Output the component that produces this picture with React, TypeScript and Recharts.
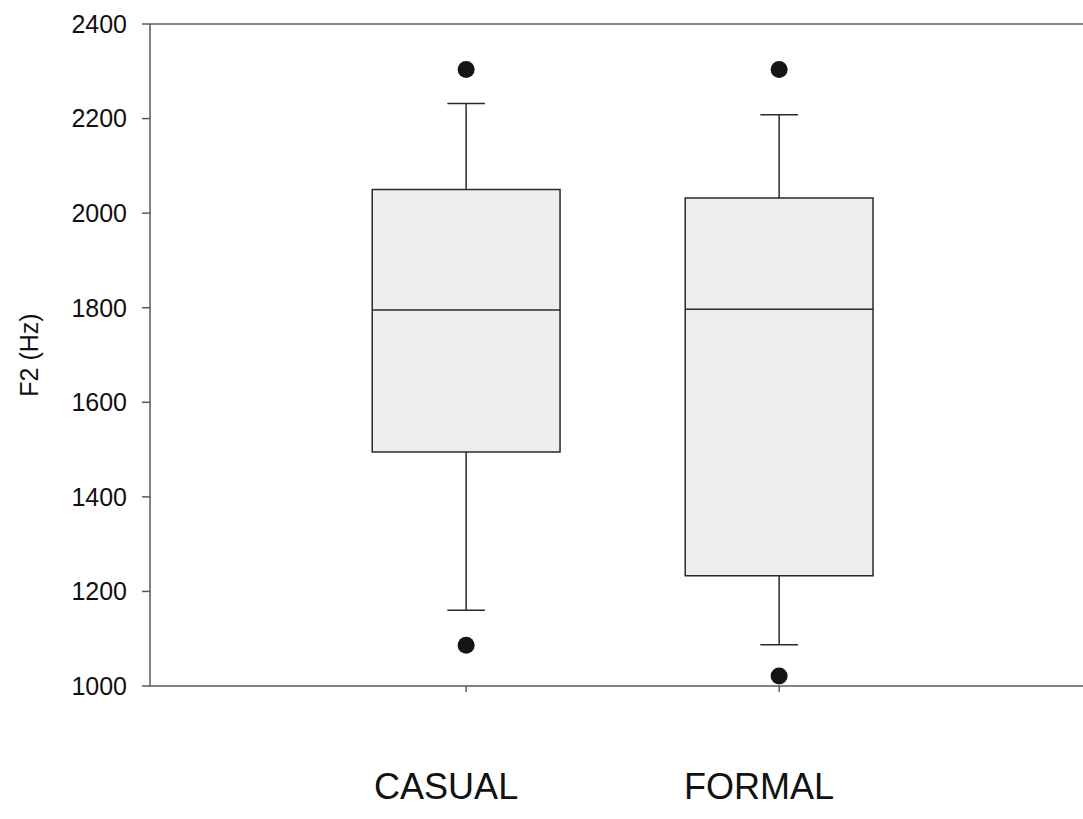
import {
  ComposedChart,
  XAxis,
  YAxis,
  Scatter,
  ReferenceArea,
  ReferenceLine,
  Label,
} from 'recharts';

// ── Box plot data (F2 in Hz) ──
const categories = ['CASUAL', 'FORMAL'];
const lowerWhisker = [1160, 1087];
const q1 = [1495, 1233];
const median = [1795, 1797];
const q3 = [2050, 2032];
const upperWhisker = [2232, 2208];
const outlierHigh = [2304, 2304];
const outlierLow = [1086, 1021];
const yTicks = [1000, 1200, 1400, 1600, 1800, 2000, 2200, 2400];

const BOX_HALF = 0.3;
const CAP_HALF = 0.06;
const LINE = '#2a2a2a';
const AXIS = '#5a5a5a';
const FONT = '"Liberation Sans", Arial, sans-serif';

const outliers = categories.flatMap((_, i) => [
  { x: i + 1, y: outlierHigh[i] },
  { x: i + 1, y: outlierLow[i] },
]);

function CategoryTick(props: any) {
  const { x, y, payload } = props;
  return (
    <text x={x - 20} y={y + 105} textAnchor="middle" fontSize={36} fill="#111" fontFamily={FONT}>
      {categories[payload.value - 1]}
    </text>
  );
}

export default function App() {
  return (
    <div
      style={{
        position: 'fixed',
        left: 0,
        top: 0,
        width: 1083,
        height: 819,
        overflow: 'hidden',
        background: '#fff',
        fontFamily: FONT,
      }}
    >
      <ComposedChart width={1100} height={819} margin={{ top: 24, right: 11, bottom: 0, left: 0 }}>
        <XAxis
          type="number"
          dataKey="x"
          domain={[-0.01, 2.99]}
          allowDataOverflow
          ticks={[1, 2]}
          height={133}
          tickSize={6}
          tickMargin={2}
          stroke={AXIS}
          strokeWidth={1.5}
          tick={<CategoryTick />}
        />
        <YAxis
          type="number"
          dataKey="y"
          domain={[1000, 2400]}
          ticks={yTicks}
          width={150}
          tickSize={8}
          tickMargin={15}
          stroke={AXIS}
          strokeWidth={1.5}
          tick={{ fontSize: 25, fill: '#111', fontFamily: FONT }}
        >
          <Label
            content={({ viewBox }: any) => {
              const cy = viewBox.y + viewBox.height / 2;
              return (
                <text
                  x={38}
                  y={cy}
                  transform={`rotate(-90, 38, ${cy})`}
                  textAnchor="middle"
                  fontSize={25}
                  fill="#111"
                  fontFamily={FONT}
                >
                  F2 (Hz)
                </text>
              );
            }}
          />
        </YAxis>

        {/* top frame line */}
        <ReferenceLine y={2400} stroke={AXIS} strokeWidth={1.5} />

        {/* boxes */}
        {categories.map((c, i) => (
          <ReferenceArea
            key={`box-${c}`}
            x1={i + 1 - BOX_HALF}
            x2={i + 1 + BOX_HALF}
            y1={q1[i]}
            y2={q3[i]}
            fill="#eeeeee"
            fillOpacity={1}
            stroke={LINE}
            strokeWidth={1.5}
          />
        ))}

        {/* medians */}
        {categories.map((c, i) => (
          <ReferenceLine
            key={`med-${c}`}
            segment={[
              { x: i + 1 - BOX_HALF, y: median[i] },
              { x: i + 1 + BOX_HALF, y: median[i] },
            ]}
            stroke={LINE}
            strokeWidth={1.5}
          />
        ))}

        {/* whiskers */}
        {categories.map((c, i) => (
          <ReferenceLine
            key={`wl-${c}`}
            segment={[
              { x: i + 1, y: lowerWhisker[i] },
              { x: i + 1, y: q1[i] },
            ]}
            stroke={LINE}
            strokeWidth={1.5}
          />
        ))}
        {categories.map((c, i) => (
          <ReferenceLine
            key={`wh-${c}`}
            segment={[
              { x: i + 1, y: q3[i] },
              { x: i + 1, y: upperWhisker[i] },
            ]}
            stroke={LINE}
            strokeWidth={1.5}
          />
        ))}

        {/* whisker caps */}
        {categories.map((c, i) => (
          <ReferenceLine
            key={`cl-${c}`}
            segment={[
              { x: i + 1 - CAP_HALF, y: lowerWhisker[i] },
              { x: i + 1 + CAP_HALF, y: lowerWhisker[i] },
            ]}
            stroke={LINE}
            strokeWidth={1.5}
          />
        ))}
        {categories.map((c, i) => (
          <ReferenceLine
            key={`ch-${c}`}
            segment={[
              { x: i + 1 - CAP_HALF, y: upperWhisker[i] },
              { x: i + 1 + CAP_HALF, y: upperWhisker[i] },
            ]}
            stroke={LINE}
            strokeWidth={1.5}
          />
        ))}

        {/* outliers */}
        <Scatter
          data={outliers}
          dataKey="y"
          isAnimationActive={false}
          shape={(p: any) => <circle cx={p.cx} cy={p.cy} r={8.5} fill="#151515" />}
        />
      </ComposedChart>
    </div>
  );
}
